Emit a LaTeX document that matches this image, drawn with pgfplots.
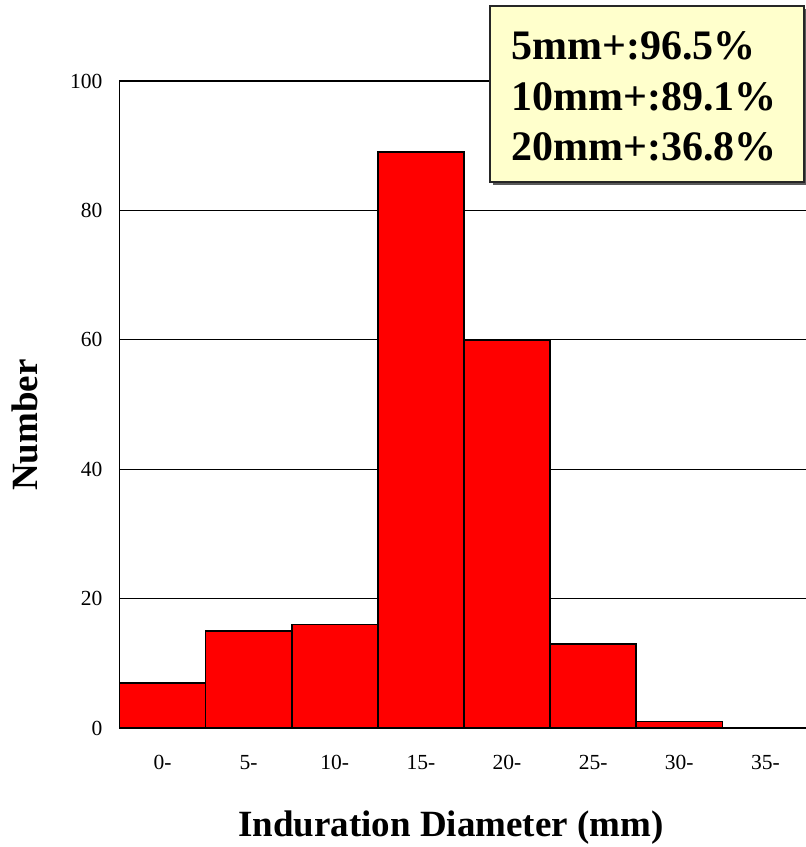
\documentclass[border=0pt]{standalone}
\usepackage{pgfplots}
\pgfplotsset{compat=1.18}
\usepackage{fontspec}
\setmainfont{Liberation Serif}
\definecolor{boxfill}{HTML}{FFFFCC}
\begin{document}
\begin{tikzpicture}[x=1pt,y=1pt]
\useasboundingbox (0,0) rectangle (806,-847);
\begin{axis}[
  at={(119.5pt,-728pt)}, anchor=south west,
  scale only axis, width=689pt, height=647pt,
  xmin=0, xmax=8, ymin=0, ymax=100,
  axis x line*=bottom, axis y line*=left,
  axis line style={line width=1.8pt, black},
  ytick={0,20,40,60,80,100},
  ymajorgrids, grid style={black, line width=1.2pt},
  xtick={0.5,1.5,2.5,3.5,4.5,5.5,6.5,7.5},
  xticklabels={0-,5-,10-,15-,20-,25-,30-,35-},
  major tick length=0pt,
  /pgf/number format/assume math mode=true,
  ticklabel style={font=\fontsize{21.5}{21.5}\selectfont},
  yticklabel style={anchor=east, inner sep=0pt, xshift=-17pt},
  xticklabel style={anchor=north, inner sep=0pt, yshift=-27pt},
  xlabel={Induration Diameter (mm)},
  ylabel={Number},
  every axis x label/.style={at={(axis description cs:0.481,-0.1546)}, anchor=center, font=\bfseries\fontsize{37}{37}\selectfont},
  every axis y label/.style={at={(axis description cs:-0.137,0.468)}, rotate=90, anchor=center, font=\bfseries\fontsize{37}{37}\selectfont},
  clip=false,
]
\addplot[ybar, bar width=1, bar shift=0pt, fill=red, draw=black, line width=1.7pt]
  coordinates {(0.5,7) (1.5,15) (2.5,16) (3.5,89) (4.5,60) (5.5,13) (6.5,1) (7.5,0)};
\end{axis}
\fill[gray!70!black] (493,-9) rectangle (807,-185);
\filldraw[fill=boxfill, draw=black!85, line width=1.8pt] (490,-6) rectangle (804,-182);
\node[anchor=base west, inner sep=0pt, font=\bfseries\fontsize{42}{42}\selectfont] at (511,-59) {5mm+:96.5\%};
\node[anchor=base west, inner sep=0pt, font=\bfseries\fontsize{42}{42}\selectfont] at (511,-110) {10mm+:89.1\%};
\node[anchor=base west, inner sep=0pt, font=\bfseries\fontsize{42}{42}\selectfont] at (511,-160) {20mm+:36.8\%};
\end{tikzpicture}
\end{document}
